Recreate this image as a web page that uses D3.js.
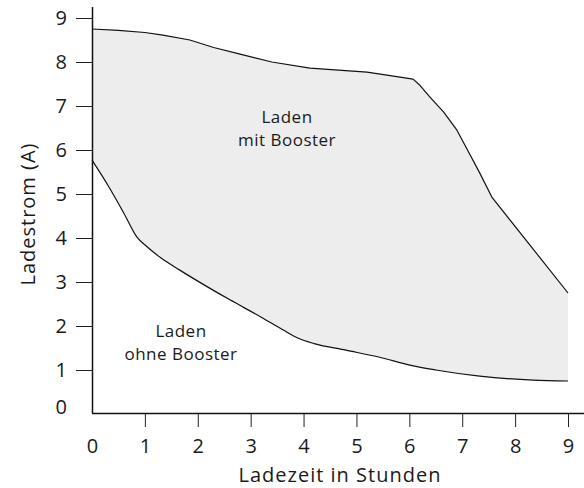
<!DOCTYPE html>
<html lang="de">
<head>
<meta charset="UTF-8">
<title>Ladestrom</title>
<script src="https://d3js.org/d3.v7.min.js"></script>
<style>
  body { margin: 0; background: #fff; }
  text { font-family: "Open Sans", "Liberation Sans", sans-serif; fill: #1a1a1a; }
</style>
</head>
<body>
<div id="chart"></div>
<script>
// Ladestrom mit / ohne Booster
const mitX  = [0, 0.5, 1, 1.34, 1.85, 2.3, 2.8, 3.4, 4.12, 5.2, 5.7, 6.07, 6.2, 6.39, 6.65, 6.9, 7.1, 7.33, 7.56, 9];
const mitY  = [8.75, 8.72, 8.67, 8.61, 8.5, 8.33, 8.18, 8.0, 7.86, 7.77, 7.68, 7.61, 7.47, 7.2, 6.86, 6.45, 6.0, 5.48, 4.93, 2.75];
const ohneX = [0, 0.32, 0.6, 0.85, 1.04, 1.3, 1.66, 2, 2.6, 3.2, 3.6, 3.9, 4.2, 4.8, 5.44, 6.01, 6.5, 7.33, 8.34, 9];
const ohneY = [5.77, 5.16, 4.57, 4.02, 3.8, 3.55, 3.27, 3.02, 2.6, 2.2, 1.92, 1.72, 1.6, 1.45, 1.29, 1.11, 1.0, 0.86, 0.77, 0.75];
const xTicks = [0, 1, 2, 3, 4, 5, 6, 7, 8, 9];
const yTicks = [0, 1, 2, 3, 4, 5, 6, 7, 8, 9];

const width = 584, height = 488;

const svg = d3.select("#chart").append("svg")
    .attr("width", width)
    .attr("height", height);

const x = d3.scaleLinear().domain([0, 9]).range([92, 568]);
const y = d3.scaleLinear().domain([0, 9]).range([414, 18]);

const mit = mitX.map((d, i) => [d, mitY[i]]);
const ohne = ohneX.map((d, i) => [d, ohneY[i]]);

// upper curve has kinks, keep it linear; lower one is smooth
const curves = [
  { data: mit, curve: d3.curveLinear, fill: "#ededed" },
  { data: ohne, curve: d3.curveMonotoneX, fill: "#fff" }
];

// grey band: fill under upper curve, then blank out under lower curve
curves.forEach(c => {
  const area = d3.area()
      .x(d => x(d[0]))
      .y0(y(0))
      .y1(d => y(d[1]))
      .curve(c.curve);
  svg.append("path").datum(c.data).attr("d", area).attr("fill", c.fill);
});

curves.forEach(c => {
  const line = d3.line()
      .x(d => x(d[0]))
      .y(d => y(d[1]))
      .curve(c.curve);
  svg.append("path").datum(c.data)
      .attr("d", line)
      .attr("fill", "none")
      .attr("stroke", "#111")
      .attr("stroke-width", 1.2)
      .attr("stroke-linejoin", "round");
});

// axes
const yAxis = svg.append("g")
    .attr("transform", "translate(92,0)")
    .call(d3.axisLeft(y).tickValues(yTicks).tickSize(16).tickPadding(9));
const xAxis = svg.append("g")
    .attr("transform", "translate(0,413)")
    .call(d3.axisBottom(x).tickValues(xTicks).tickSize(14).tickPadding(12));

[xAxis, yAxis].forEach(g => {
  g.select(".domain").remove();
  g.selectAll("line").attr("stroke", "#222").attr("stroke-width", 1);
  g.selectAll("text")
      .style("font-family", "\"Open Sans\", sans-serif")
      .style("font-size", "20px")
      .attr("fill", "#1a1a1a");
});
yAxis.selectAll(".tick").filter(d => d === 0).select("line").remove();
yAxis.selectAll(".tick").filter(d => d === 0).select("text").attr("dy", "-0.05em");
xAxis.selectAll(".tick").filter(d => d === 0).select("line").remove();

svg.append("line")
    .attr("x1", 92.5).attr("x2", 92.5)
    .attr("y1", 7).attr("y2", 413)
    .attr("stroke", "#111").attr("stroke-width", 1.5);
svg.append("line")
    .attr("x1", 92).attr("x2", 584)
    .attr("y1", 413.5).attr("y2", 413.5)
    .attr("stroke", "#111").attr("stroke-width", 1.5);

// titles
svg.append("text")
    .attr("x", 340).attr("y", 482)
    .attr("text-anchor", "middle")
    .style("font-size", "20px")
    .style("letter-spacing", "1px")
    .text("Ladezeit in Stunden");

svg.append("text")
    .attr("transform", "translate(35,214) rotate(-90)")
    .attr("text-anchor", "middle")
    .style("font-size", "20px")
    .style("letter-spacing", "1px")
    .text("Ladestrom (A)");

// annotations
const notes = [
  { lines: ["Laden", "mit Booster"], cx: 287, cy: 117 },
  { lines: ["Laden", "ohne Booster"], cx: 181, cy: 331 }
];
notes.forEach(n => {
  const t = svg.append("text")
      .attr("text-anchor", "middle")
      .style("font-size", "17px")
      .style("letter-spacing", "0.5px");
  n.lines.forEach((s, i) => {
    t.append("tspan")
        .attr("x", n.cx)
        .attr("y", n.cy + 6 + i * 23)
        .text(s);
  });
});
</script>
</body>
</html>
